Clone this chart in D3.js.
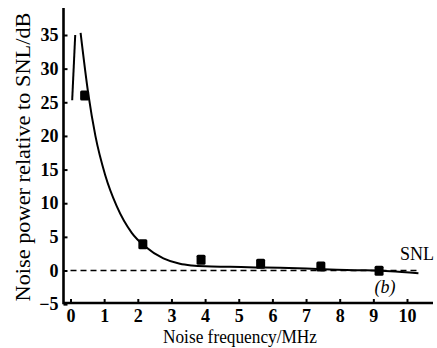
<!DOCTYPE html>
<html>
<head>
<meta charset="utf-8">
<script src="https://cdn.jsdelivr.net/npm/d3@7"></script>
<style>
  html, body { margin: 0; padding: 0; background: #fff; }
  svg { display: block; }
  text { font-family: 'Liberation Serif', 'DejaVu Serif', serif; fill: #000; }
</style>
</head>
<body>
<svg id="chart" width="437" height="348"></svg>
<script>
const xTicks = [0, 1, 2, 3, 4, 5, 6, 7, 8, 9, 10];
const yTicks = [-5, 0, 5, 10, 15, 20, 25, 30, 35];

// short rising stroke at the very start
const spikeX = [0.05, 0.14];
const spikeY = [25.3, 35.0];

// fitted noise curve
const curveX = [0.30, 0.53, 0.74, 1.03, 1.37, 1.82, 2.21, 2.76, 3.25, 3.6, 4.0, 4.74, 5.5, 6.23, 7.0, 7.71, 8.6, 9.5, 10.34];
const curveY = [35.3, 26.2, 20.0, 14.2, 9.6, 5.6, 3.6, 1.8, 1.0, 0.75, 0.62, 0.55, 0.45, 0.4, 0.3, 0.15, 0.05, -0.1, -0.4];

// measured points
const pointX = [0.42, 2.15, 3.88, 5.65, 7.44, 9.17];
const pointY = [26.0, 3.9, 1.6, 1.0, 0.6, -0.05];

const snlX = [0, 10.3];
const snlY = [0, 0];

const svg = d3.select('#chart');

const x = d3.scaleLinear().domain([0, 10]).range([70.5, 407]);
const y = d3.scaleLinear().domain([0, 35]).range([270.5, 35]);

const X0 = 63.5, Y0 = 303;

// axes
const xAxis = svg.append('g')
  .attr('transform', `translate(0,${Y0})`)
  .call(d3.axisBottom(x).tickValues(xTicks).tickSize(-4).tickPadding(6).tickFormat(d3.format('d')));
xAxis.select('.domain').remove();
xAxis.selectAll('line').attr('stroke', '#000').attr('stroke-width', 2);
xAxis.selectAll('text')
  .attr('font-size', '18px').attr('font-weight', 'bold')
  .attr('font-family', "'Liberation Serif', serif");

const yAxis = svg.append('g')
  .attr('transform', `translate(${X0},0)`)
  .call(d3.axisLeft(y).tickValues(yTicks).tickSize(-4).tickPadding(5)
    .tickFormat(d => d < 0 ? '\u2212' + Math.abs(d) : d));
yAxis.select('.domain').remove();
yAxis.selectAll('line').attr('stroke', '#000').attr('stroke-width', 2);
yAxis.selectAll('text')
  .attr('font-size', '18px').attr('font-weight', 'bold')
  .attr('font-family', "'Liberation Serif', serif");

svg.append('line')
  .attr('x1', X0).attr('x2', 433).attr('y1', Y0).attr('y2', Y0)
  .attr('stroke', '#000').attr('stroke-width', 2.6);
svg.append('line')
  .attr('x1', X0).attr('x2', X0).attr('y1', 8).attr('y2', Y0 + 1.3)
  .attr('stroke', '#000').attr('stroke-width', 2.6);

// SNL reference (dashed)
svg.append('path')
  .datum(d3.zip(snlX, snlY))
  .attr('d', d3.line().x(d => x(d[0])).y(d => y(d[1])))
  .attr('fill', 'none').attr('stroke', '#000')
  .attr('stroke-width', 1.6).attr('stroke-dasharray', '6,4');

svg.append('path')
  .datum(d3.zip(spikeX, spikeY))
  .attr('d', d3.line().x(d => x(d[0])).y(d => y(d[1])))
  .attr('fill', 'none').attr('stroke', '#000').attr('stroke-width', 2);

svg.append('path')
  .datum(d3.zip(curveX, curveY))
  .attr('d', d3.line().x(d => x(d[0])).y(d => y(d[1])).curve(d3.curveMonotoneX))
  .attr('fill', 'none').attr('stroke', '#000').attr('stroke-width', 2);

svg.append('g').selectAll('rect')
  .data(d3.zip(pointX, pointY))
  .enter().append('rect')
  .attr('x', d => x(d[0]) - 4.5).attr('y', d => y(d[1]) - 5)
  .attr('width', 9).attr('height', 10).attr('rx', 1.5)
  .attr('fill', '#000');

// labels
svg.append('text')
  .attr('x', 400).attr('y', 260)
  .attr('font-size', '18px')
  .text('SNL');

svg.append('text')
  .attr('x', 385).attr('y', 293)
  .attr('text-anchor', 'middle')
  .attr('font-size', '18px').attr('font-style', 'italic')
  .text('(b)');

svg.append('text')
  .attr('x', 240).attr('y', 343)
  .attr('text-anchor', 'middle')
  .attr('font-size', '18px')
  .attr('textLength', 154).attr('lengthAdjust', 'spacingAndGlyphs')
  .text('Noise frequency/MHz');

svg.append('text')
  .attr('transform', 'translate(30,157) rotate(-90)')
  .attr('text-anchor', 'middle')
  .attr('font-size', '22px')
  .attr('textLength', 289).attr('lengthAdjust', 'spacingAndGlyphs')
  .text('Noise power relative to SNL/dB');
</script>
</body>
</html>
